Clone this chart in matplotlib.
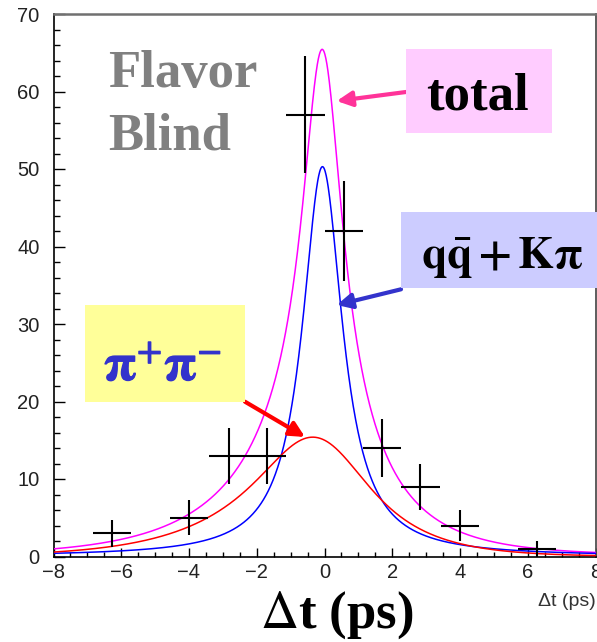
import numpy as np
import matplotlib
matplotlib.use("Agg")
import matplotlib.pyplot as plt
from matplotlib.patches import Rectangle
import matplotlib.patheffects as pe

plt.rcParams['mathtext.fontset'] = 'stix'

# Binned event counts in Delta t
dt_centers = [-6.27, -4.0, -2.83, -1.70, -0.57, 0.57, 1.70, 2.83, 4.0, 6.27]
dt_halfwidth = [0.57, 0.57, 0.57, 0.57, 0.57, 0.57, 0.57, 0.57, 0.57, 0.57]
counts = [3, 5, 13, 13, 57, 42, 14, 9, 4, 1]

# Fit components
# continuum (q qbar + K pi): Lorentzian  [amplitude, centre, half width]
bkg_pars = [50.3, -0.06, 0.72]
# signal (pi+ pi-): asymmetric exponential (x) Gaussian  [peak, centre, tau_left, tau_right, sigma]
sig_pars = [15.4, -0.35, 2.1, 1.55, 0.85]

x_ticks = [-8, -6, -4, -2, 0, 2, 4, 6, 8]
y_ticks = [0, 10, 20, 30, 40, 50, 60, 70]

W, H = 597, 642


def fx(px):
    return px / W


def fy(py):
    return 1 - py / H


def lorentz(t, a, mu, g):
    return a / (1 + ((t - mu) / g) ** 2)


def exp_gauss(t, peak, mu, tl, tr, s):
    step = t[1] - t[0]
    k = np.arange(-12, 12 + step / 2, step)
    core = np.where(k < 0, np.exp(k / tl), np.exp(-k / tr))
    g = np.exp(-0.5 * (k / s) ** 2)
    conv = np.convolve(core, g, mode='same')
    i_peak = np.argmax(conv)
    shape = np.interp(t - mu, k - k[i_peak], conv / conv[i_peak])
    return peak * shape


t = np.linspace(-8, 8, 1601)
bkg = lorentz(t, *bkg_pars)
sig = exp_gauss(t, *sig_pars)
tot = bkg + sig

fig = plt.figure(figsize=(W / 100, H / 100), dpi=100)
ax = fig.add_axes([fx(53.5), fy(556.5), (595.5 - 53.5) / W, (556.5 - 14) / H])

ax.plot(t, tot, color='#ff00ff', lw=1.1, zorder=3)
ax.plot(t, bkg, color='#0000ff', lw=1.1, zorder=3)
ax.plot(t, sig, color='#ff0000', lw=1.1, zorder=3)

ax.errorbar(dt_centers, counts, xerr=dt_halfwidth, yerr=np.sqrt(counts),
            fmt='none', ecolor='black', elinewidth=1.5, capsize=0, zorder=4)

ax.set_xlim(-8, 8)
ax.set_ylim(0, 70)
ax.set_xticks(x_ticks)
ax.set_yticks(y_ticks)
ax.set_xticks(np.arange(-8, 8.01, 0.5), minor=True)
ax.set_yticks(np.arange(0, 70.01, 2), minor=True)
ax.tick_params(axis='both', which='both', direction='in', top=False, right=False,
               colors='black', labelcolor='#222222', width=1.0)
ax.tick_params(axis='x', which='major', length=6.5, pad=5, labelsize=14.5)
ax.tick_params(axis='x', which='minor', length=3.5)
ax.tick_params(axis='y', which='major', length=8, pad=10, labelsize=14.5)
ax.tick_params(axis='y', which='minor', length=4.3)
for lab in ax.get_xticklabels() + ax.get_yticklabels():
    lab.set_family('Liberation Sans')

ax.spines['left'].set_color('black')
ax.spines['bottom'].set_color('black')
ax.spines['left'].set_linewidth(1.2)
ax.spines['bottom'].set_linewidth(1.2)
ax.spines['top'].set_color('#707070')
ax.spines['top'].set_linewidth(1.8)
ax.spines['right'].set_color('#505050')
ax.spines['right'].set_linewidth(1.3)

serif = 'Liberation Serif'

# Title block
fig.text(fx(108), fy(87), 'Flavor', family=serif, weight='bold', fontsize=38,
         color='#808080', ha='left', va='baseline')
fig.text(fx(108), fy(150), 'Blind', family=serif, weight='bold', fontsize=38,
         color='#808080', ha='left', va='baseline')

# Legend boxes
boxes = [
    (406, 49.3, 551.7, 132.7, '#ffccff'),
    (401, 211.7, 597, 288.3, '#ccccff'),
    (85, 305, 245, 401.7, '#ffff99'),
]
for x0, y0, x1, y1, c in boxes:
    fig.patches.append(Rectangle((fx(x0), fy(y1)), (x1 - x0) / W, (y1 - y0) / H,
                                 transform=fig.transFigure, facecolor=c,
                                 edgecolor='none', zorder=5))

fig.text(fx(426), fy(110), 'total', family=serif, weight='bold', fontsize=38,
         color='black', ha='left', va='baseline', zorder=6)
fig.text(fx(421), fy(268), r'$\mathbf{q\bar{q}}\,\mathbf{+}\,\mathbf{K\pi}$',
         fontsize=33, color='black', ha='left', va='baseline', zorder=6)
fig.text(fx(104), fy(380), r'$\mathbf{\pi}^{+}\mathbf{\pi}^{-}$', fontsize=37,
         color='#3333cc', ha='left', va='baseline', zorder=6,
         path_effects=[pe.withStroke(linewidth=1.0, foreground='#3333cc')])

# Arrows from the boxes to the curves
arrows = [
    ((406, 92), (336.7, 101), '#ff3399'),
    ((401, 289.3), (336.7, 305), '#3333cc'),
    ((245, 401.7), (305, 437), '#ff0000'),
]
for (x0, y0), (x1, y1), c in arrows:
    ax.annotate('', xy=(fx(x1), fy(y1)), xycoords='figure fraction',
                xytext=(fx(x0), fy(y0)), textcoords='figure fraction',
                arrowprops=dict(arrowstyle='-|>,head_length=0.9,head_width=0.45',
                                color=c, lw=3, shrinkA=0, shrinkB=0),
                zorder=6, annotation_clip=False)

# Axis titles
fig.text(fx(337), fy(628), r'$\Delta$t (ps)', family=serif, weight='bold',
         fontsize=38, color='black', ha='center', va='baseline')
fig.text(fx(596), fy(602), '\u0394t (ps)', family='Liberation Sans', fontsize=14,
         color='#333333', ha='right', va='center')

fig.savefig('out.png', dpi=100)
